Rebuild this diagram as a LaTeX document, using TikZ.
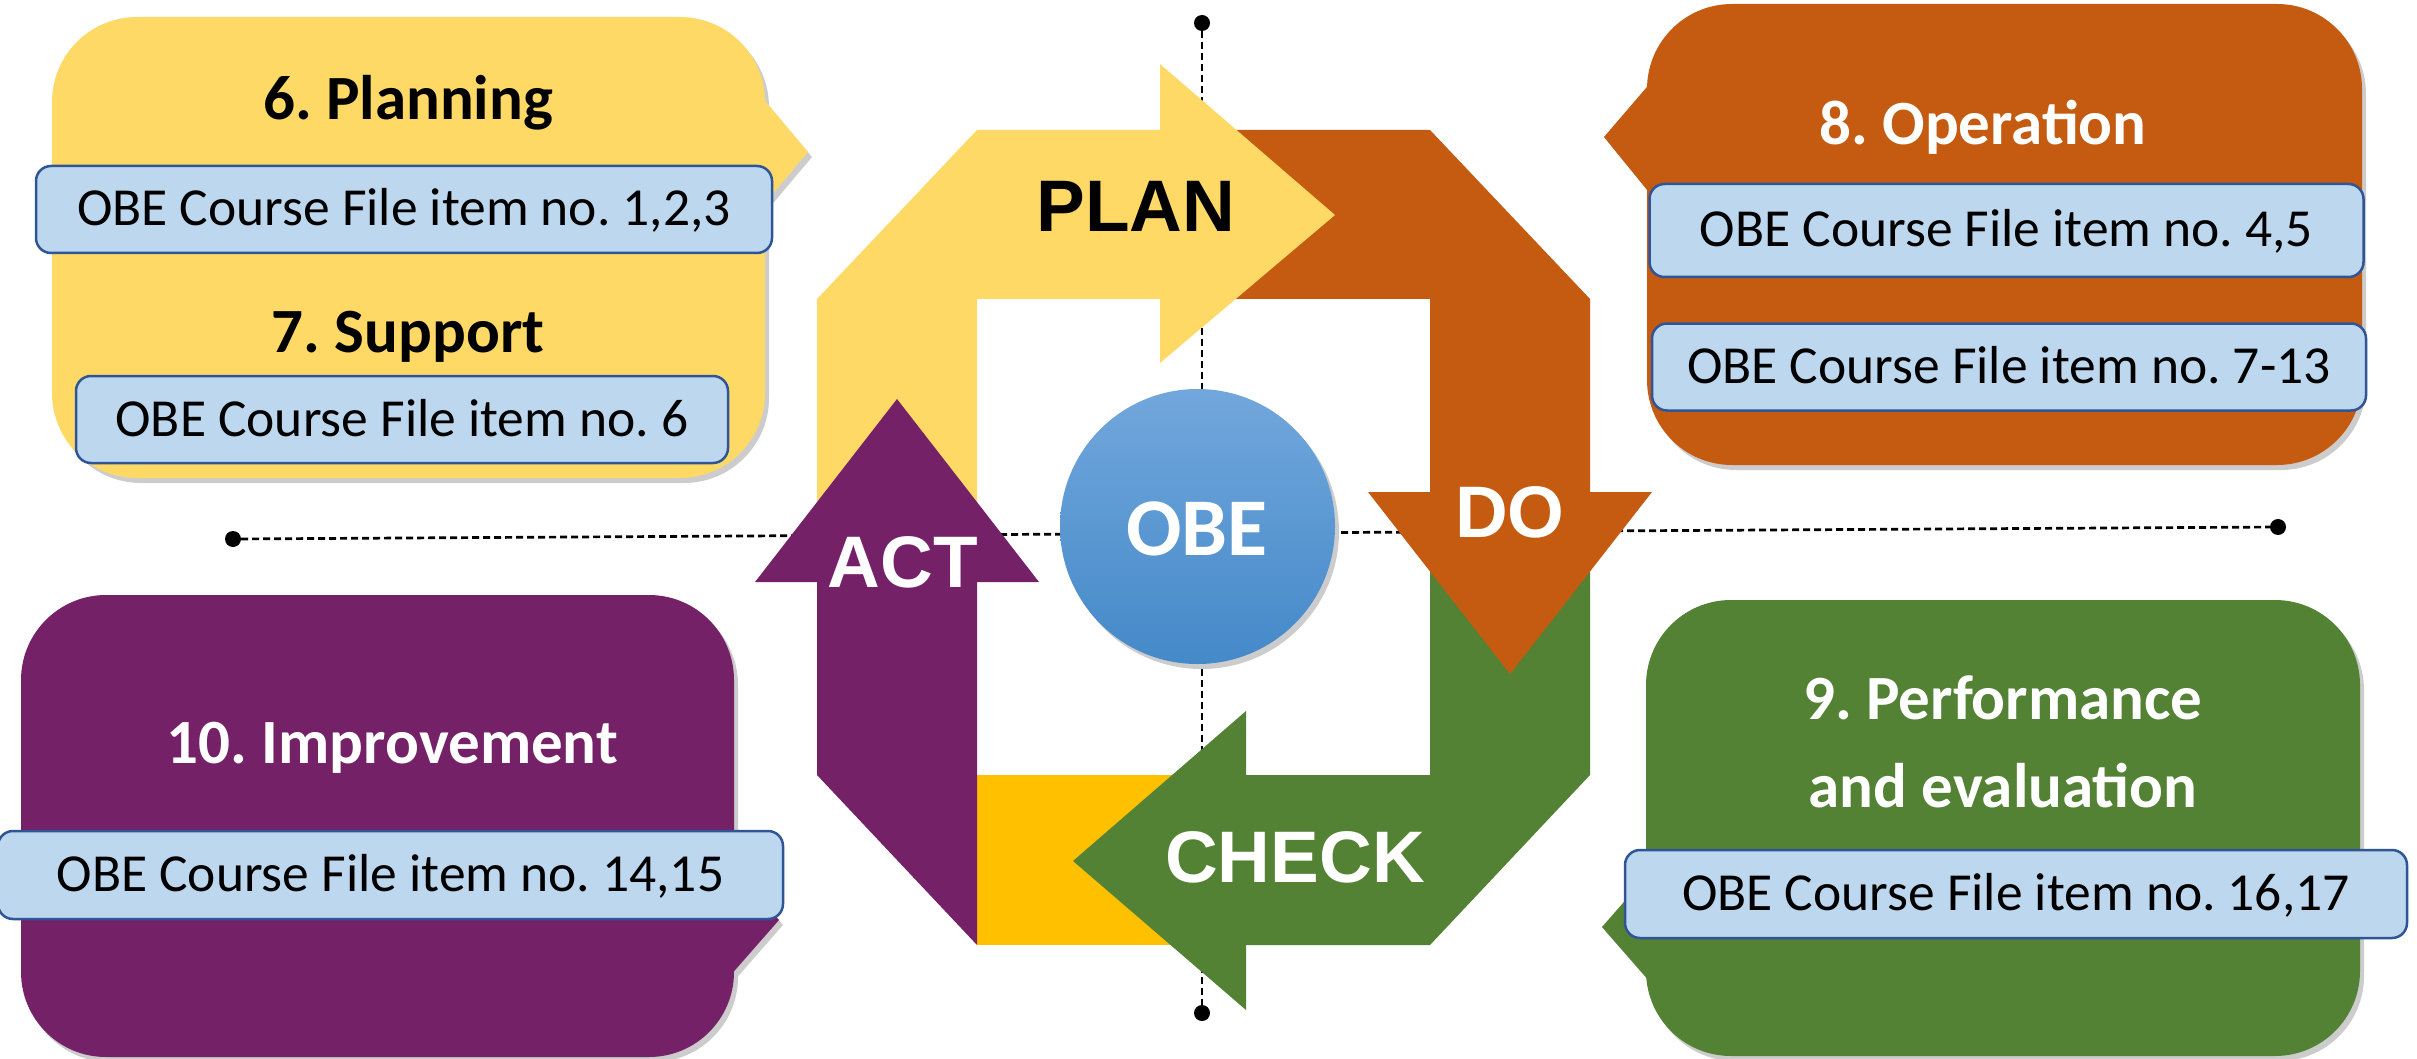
\documentclass[tikz,border=0pt]{standalone}
\usepackage{fontspec}
\setmainfont{Carlito}
\newfontfamily\arialfont{Liberation Sans}
\usetikzlibrary{shapes.geometric}
\definecolor{yellowc}{HTML}{FFD966}
\definecolor{orangec}{HTML}{C55A11}
\definecolor{greenc}{HTML}{548235}
\definecolor{purplec}{RGB}{117,33,104}
\definecolor{goldc}{HTML}{FFC000}
\definecolor{boxfill}{HTML}{BDD7EE}
\definecolor{boxborder}{HTML}{2F5597}
\definecolor{obetop}{HTML}{72A7DC}
\definecolor{obebot}{HTML}{4489C9}
\frenchspacing
\begin{document}
\begin{tikzpicture}[x=1pt,y=-1pt,
  dashline/.style={line width=2.7pt, dash pattern=on 7pt off 4pt, black},
  dotnode/.style={circle, fill=black, inner sep=0pt, minimum size=16pt},
  shadowc/.style={fill=black!20},
  bluebox/.style={draw=boxborder, fill=boxfill, line width=2.5pt, rounded corners=15pt,
    inner sep=0pt, text height=33pt, text depth=0pt, font=\fontsize{53.5}{62}\selectfont},
  boxtitle/.style={anchor=base, font=\bfseries\fontsize{63}{75}\selectfont},
  cyclelabel/.style={anchor=base, font=\arialfont\bfseries\fontsize{73}{86}\selectfont},
  bigbox/.style={rounded corners=85pt}
]
\useasboundingbox (0,0) rectangle (2417,1059);

% dashed axes
\node[dotnode] (dL) at (233,539) {};
\node[dotnode] (dR) at (2278,527) {};
\node[dotnode] (dT) at (1202,23) {};
\node[dotnode] (dB) at (1202,1013) {};
\draw[dashline] (dL) -- (dR);
\draw[dashline] (dT) -- (dB);

% shadows of the big boxes and the circle
\begin{scope}[shift={(4,5)}]
  \fill[shadowc, bigbox] (52,17) rectangle (765,478);
  \fill[shadowc] (760,95) -- (808,152) -- (760,209) -- cycle;
  \fill[shadowc, bigbox] (1647,4) rectangle (2362,465);
  \fill[shadowc] (1652,81) -- (1604,137) -- (1652,196) -- cycle;
  \fill[shadowc, bigbox] (21,595) rectangle (734,1057);
  \fill[shadowc] (729,863) -- (779,920) -- (729,977) -- cycle;
  \fill[shadowc, bigbox] (1646,600) rectangle (2360,1056);
  \fill[shadowc] (1651,871) -- (1602,927) -- (1651,983) -- cycle;
  \fill[shadowc] (1197.5,526.5) circle (137.5pt);
\end{scope}

% big boxes
\fill[yellowc, bigbox] (52,17) rectangle (765,478);
\fill[yellowc] (760,95) -- (808,152) -- (760,209) -- cycle;
\fill[orangec, bigbox] (1647,4) rectangle (2362,465);
\fill[orangec] (1652,81) -- (1604,137) -- (1652,196) -- cycle;
\fill[purplec, bigbox] (21,595) rectangle (734,1057);
\fill[purplec] (729,863) -- (779,920) -- (729,977) -- cycle;
\fill[greenc, bigbox] (1646,600) rectangle (2360,1056);
\fill[greenc] (1651,871) -- (1602,927) -- (1651,983) -- cycle;

% cycle bodies
\fill[yellowc] (817,527) -- (817,299) -- (977,130) -- (1202,130) -- (1202,299) -- (977,299) -- (977,527) -- cycle;
\fill[orangec] (1202,130) -- (1430,130) -- (1590,299) -- (1590,527) -- (1430,527) -- (1430,299) -- (1202,299) -- cycle;
\fill[greenc] (1590,527) -- (1590,775) -- (1430,945) -- (1202,945) -- (1202,775) -- (1430,775) -- (1430,527) -- cycle;
\fill[goldc] (1202,775) -- (977,775) -- (977,945) -- (1202,945) -- cycle;
\fill[purplec] (977,527) -- (977,945) -- (817,775) -- (817,527) -- cycle;
% arrow heads
\fill[yellowc] (1160,64) -- (1335,215) -- (1160,363) -- cycle;
\fill[orangec] (1368,492) -- (1652,492) -- (1510,674) -- cycle;
\fill[greenc] (1246,711) -- (1073,861) -- (1246,1010) -- cycle;
\fill[purplec] (755,582) -- (897,399) -- (1039,582) -- cycle;

% cycle labels
\node[cyclelabel, text=black] (plan) at (1136,231.5) {PLAN};
\node[cyclelabel, text=white] (do) at (1510,537) {DO};
\node[cyclelabel, text=white] (act) at (903,587) {ACT};
\node[cyclelabel, text=white] (check) at (1295,882.5) {CHECK};

% centre circle
\node[circle, minimum size=275pt, inner sep=0pt, top color=obetop, bottom color=obebot] (obe) at (1197.5,526.5) {};
\node[anchor=base, text=white, font=\bfseries\fontsize{82}{96}\selectfont] (obet) at (1197,555) {OBE};

% item boxes
\node[bluebox, minimum width=736pt, minimum height=87pt] (b1) at (404,209.5) {OBE Course File item no. 1,2,3};
\node[bluebox, minimum width=652pt, minimum height=87pt] (b2) at (402,419.5) {OBE Course File item no. 6};
\node[bluebox, minimum width=714pt, minimum height=93pt] (b3) at (2006.5,230.5) {OBE Course File item no. 4,5};
\node[bluebox, minimum width=714pt, minimum height=87pt] (b4) at (2009,367) {OBE Course File item no. 7-13};
\node[bluebox, minimum width=785pt, minimum height=88pt] (b5) at (390.5,875) {OBE Course File item no. 14,15};
\node[bluebox, minimum width=782pt, minimum height=88pt] (b6) at (2016,894) {OBE Course File item no. 16,17};

% titles
\node[boxtitle] (t6) at (408,120) {6. Planning};
\node[boxtitle] (t7) at (408,352) {7. Support};
\node[boxtitle, text=white] (t8) at (1983,145) {8. Operation};
\node[boxtitle, text=white] (t10) at (392.5,763) {10. Improvement};
\node[boxtitle, text=white] (t9a) at (2003,719) {9. Performance};
\node[boxtitle, text=white] (t9b) at (2003,807) {and evaluation};
\end{tikzpicture}
\end{document}
